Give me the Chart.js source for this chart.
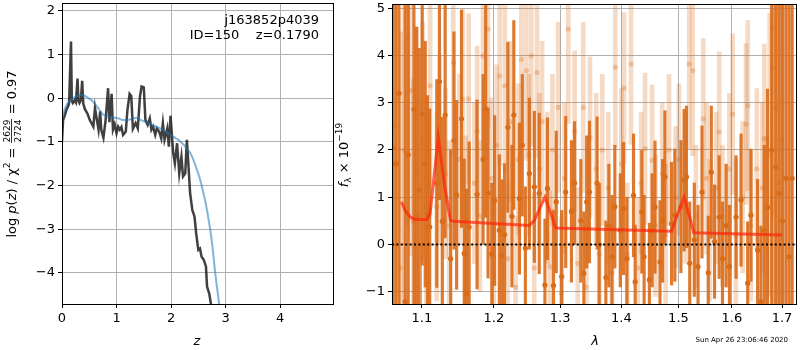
<!DOCTYPE html>
<html>
<head>
<meta charset="utf-8">
<script src="https://cdn.jsdelivr.net/npm/chart.js@4.4.0/dist/chart.umd.min.js"></script>
<style>
body { margin: 0; background: #fff; }
#wrap { position: relative; width: 800px; height: 350px; }
canvas { position: absolute; top: 0; }
#left { left: 0; width: 340px; height: 350px; }
#right { left: 330px; width: 470px; height: 350px; }
</style>
</head>
<body>
<div id="wrap">
<canvas id="left" width="340" height="350"></canvas>
<canvas id="right" width="470" height="350"></canvas>
</div>
<script>
// Panel izquierdo: log p(z)
const zPz = [0, 0.02, 0.05, 0.08, 0.11, 0.13, 0.165, 0.18, 0.2, 0.23, 0.255, 0.285, 0.3, 0.32, 0.345, 0.37, 0.39, 0.42, 0.47, 0.51,
  0.575, 0.605, 0.63, 0.67, 0.7, 0.72, 0.76, 0.8, 0.845, 0.87, 0.91, 0.935, 0.966, 1.0, 1.03, 1.06, 1.09, 1.12, 1.17, 1.2,
  1.24, 1.27, 1.3, 1.35, 1.39, 1.43, 1.46, 1.5, 1.53, 1.57, 1.61, 1.64, 1.67, 1.71, 1.74, 1.78, 1.82, 1.85, 1.88, 1.93,
  1.96, 1.99, 2.04, 2.07, 2.11, 2.15, 2.19, 2.22, 2.26, 2.29, 2.32, 2.35, 2.39, 2.43, 2.46, 2.5, 2.53, 2.56, 2.6, 2.64,
  2.66, 2.7, 2.73, 2.77];
const logPz = [-0.99, -0.5, -0.4, -0.27, -0.19, -0.12, 1.3, -0.06, -0.11, -0.05, -0.1, 0.45, -0.05, -0.11, -0.05, 0.4, -0.12, -0.25, -0.36, -0.5,
  -0.65, -0.22, -0.42, -0.72, -0.3, -0.72, -0.9, -0.5, 0.23, -0.55, 0.1, -0.72, -0.6, -0.8, -0.65, -0.72, -0.66, -0.84, -0.76, -0.27,
  0.1, 0.05, -0.7, -0.57, -0.69, 0.04, 0.27, 0.25, -0.5, -0.61, -0.46, -0.72, -0.65, -0.84, -0.69, -0.76, -0.92, -0.57, -0.95, -0.69,
  -1.11, -0.4, -1.26, -1.49, -1.03, -1.72, -1.34, -1.79, -1.72, -0.95, -1.56, -2.18, -2.56, -2.71, -3.09, -3.47, -3.44, -3.63, -3.7, -3.85,
  -4.31, -4.47, -4.7, -4.92];
const zSmooth = [0, 0.05, 0.1, 0.2, 0.3, 0.36, 0.45, 0.57, 0.66, 0.76, 0.85, 0.94, 1.03, 1.12, 1.2, 1.3, 1.37, 1.45, 1.55, 1.65,
  1.8, 1.92, 2.04, 2.17, 2.29, 2.35, 2.4, 2.47, 2.53, 2.6, 2.65, 2.72, 2.76, 2.81, 2.84, 2.88, 2.92];
const logPzSmooth = [-0.5, -0.25, -0.12, 0.0, 0.06, 0.08, 0.03, -0.08, -0.22, -0.38, -0.42, -0.44, -0.46, -0.5, -0.5, -0.46, -0.45, -0.5, -0.55, -0.61,
  -0.69, -0.78, -0.88, -0.99, -1.15, -1.25, -1.38, -1.62, -1.85, -2.2, -2.5, -3.02, -3.4, -4.0, -4.3, -4.69, -5.2];
const zTicks = [0, 1, 2, 3, 4];
const pzTicks = [-4, -3, -2, -1, 0, 1, 2];

// Panel derecho: espectro (serie oscura)
const lamA = [1.062, 1.066, 1.070, 1.078, 1.082, 1.0895, 1.093, 1.0965,
  1.1005, 1.1045, 1.1075, 1.1105, 1.120, 1.1236, 1.1275, 1.1314, 1.139, 1.1435,
  1.1472, 1.154, 1.1578, 1.161, 1.1647, 1.1759, 1.1845, 1.1882, 1.1916, 1.197,
  1.2011, 1.208, 1.2117, 1.2156, 1.2205, 1.2265, 1.2293, 1.2377, 1.242, 1.2466,
  1.2526, 1.2602, 1.2677, 1.2764, 1.2804, 1.2897, 1.294,
  1.3026, 1.3089, 1.318, 1.323, 1.333, 1.3379, 1.3425, 1.347, 1.3595, 1.363,
  1.374, 1.379, 1.3842, 1.389, 1.3981,
  1.4037, 1.4094, 1.4207, 1.4235, 1.435, 1.439, 1.4482, 1.453, 1.4581, 1.4669,
  1.4715, 1.4757, 1.4876, 1.4935,
  1.5045, 1.5102, 1.5145, 1.5206, 1.529, 1.5359, 1.5433, 1.555, 1.5607, 1.5669,
  1.5757, 1.582, 1.589, 1.5954,
  1.6082, 1.6179, 1.6309, 1.6374, 1.6506, 1.6572, 1.664, 1.6705, 1.679, 1.6873,
  1.6941, 1.701, 1.708, 1.7145, 1.721];
const fluxA = [2.05, 1.71, 3.2, -1.21, 1.9, 2.86, 0.6, 1.15,
  2.76, 1.7, 0.65, 0.37, 1.29, 3.45, 0.49, 2.74, -0.3, 2.2,
  1.05, 2.66, -0.19, -1.03, 0.37, 1.06, 1.8, 2.87, 1.09, -0.2,
  0.93, 0.3, -0.23, 0.21, 2.48, 0.6, 2.74, 0.97, 2.1, -0.08,
  1.5, 1.22, 1.08, -0.86, 1.18, -0.87, 0.9,
  -0.68, 1.11, 0.7, 1.3, 0.5, -0.61, 0.9, 1.11, 1.3, -0.01,
  -0.7, 0.4, -0.26, 0.8, 0.3,
  0.76, -0.3, 1.04, -0.79, 0.69, -0.26, -0.75, 0.3, 0.79, -0.37,
  0.5, 1.43, 0.44, 0.62,
  0.8, 1.36, 1.43, -0.4, 0.1, -0.47, 1.11, -0.6, 1.53, 0.06,
  0.58, -0.3, 0.4, -0.47,
  0.58, 0.94, -0.82, 0.62, -0.12, -1.21, 0.3, 0.79, 2.0, 1.64,
  1.08, 0.5, 1.4, -0.26, 1.4];
const errA = [9, 9, 8, 7, 7, 5, 4, 3,
  3.2, 2.6, 2.5, 2.5, 2.2, 2.5, 2.2, 2.6, 2.3, 2.3,
  2.0, 2.3, 2.0, 2.2, 1.8, 2.0, 1.8, 2.3, 1.8, 1.5,
  1.8, 1.6, 1.6, 1.5, 1.8, 1.5, 2.0, 1.6, 1.5, 1.3,
  1.6, 1.6, 1.7, 1.4, 1.5, 1.6, 1.5,
  1.4, 1.6, 1.5, 1.3, 1.3, 1.3, 1.4, 1.5, 1.4, 1.3,
  1.2, 1.3, 1.3, 1.3, 1.2,
  1.4, 1.3, 1.3, 1.2, 1.3, 1.3, 1.2, 1.2, 1.4, 1.3,
  1.3, 1.4, 1.3, 1.4,
  1.4, 1.5, 1.5, 1.3, 1.2, 1.3, 1.4, 1.2, 1.4, 1.2,
  1.3, 1.2, 1.3, 1.3,
  1.3, 1.4, 1.3, 1.4, 1.5, 1.6, 1.8, 2.5, 4, 7,
  8, 9, 9, 9, 9];

// Serie clara (transparente)
const lamB = [1.064, 1.072, 1.0765, 1.0813, 1.0848, 1.089, 1.093, 1.101, 1.106, 1.111,
  1.120, 1.124, 1.132, 1.137, 1.1426, 1.151, 1.1554, 1.1597, 1.164, 1.172,
  1.176, 1.180, 1.1844, 1.1916, 1.196, 1.200, 1.204, 1.2085, 1.216, 1.220,
  1.224, 1.232, 1.236, 1.2406, 1.2481, 1.252, 1.2556, 1.260, 1.2642, 1.268,
  1.272, 1.280, 1.284, 1.288, 1.297, 1.302, 1.307, 1.313, 1.323, 1.328,
  1.337, 1.342, 1.3479, 1.358, 1.363, 1.368, 1.378, 1.384, 1.3898, 1.400,
  1.4045, 1.410, 1.4164, 1.428, 1.434, 1.4407, 1.453, 1.459, 1.471, 1.477,
  1.483, 1.495, 1.501, 1.513, 1.5196, 1.526, 1.532, 1.5457, 1.552, 1.558,
  1.570, 1.5757, 1.582, 1.595, 1.6016, 1.608, 1.621, 1.6276, 1.631, 1.637,
  1.649, 1.660, 1.664, 1.669, 1.675, 1.680, 1.682, 1.687, 1.693, 1.699];
const fluxB = [2.5, -0.5, 2.0, 4.38, 3.26, 0.5, 1.6, 2.2, 0.8, 3.36,
  0.8, 2.0, 1.5, 0.4, 3.85, 1.8, 3.08, 0.6, 3.08, 1.3,
  2.4, 0.6, 3.99, 4.56, 1.4, -0.82, 2.1, 3.57, 3.36, -0.3,
  2.6, -0.9, 1.8, 3.92, 3.68, 1.9, 3.99, -0.5, 3.64, 1.6,
  2.6, 1.2, -0.47, 2.0, 2.9, -1.03, 1.4, 4.56, 2.4, -0.4,
  2.9, -0.9, 2.27, 1.6, -0.2, 2.0, 1.2, -0.6, 3.75, 1.7,
  3.31, -0.2, 3.82, -0.5, 1.3, 2.03, 1.78, 0.4, 1.5, 0.2,
  2.0, 1.0, 1.8, 1.2, 3.82, 3.68, 0.6, 2.66, 1.4, 0.3,
  1.2, 2.38, 0.6, 1.6, 2.76, 0.2, 1.0, 2.55, 2.94, 0.4,
  1.6, 1.2, 2.24, 0.0, 1.9, 4.59, 3.75, 2.9, 1.3, 2.2];
const errB = [6, 5, 4, 4, 3.5, 3, 3, 2.5, 2.3, 2.2,
  2.0, 2.0, 1.8, 1.8, 2.0, 1.8, 1.9, 1.7, 1.8, 1.7,
  1.8, 1.6, 2.0, 2.1, 1.7, 1.6, 1.7, 1.9, 1.8, 1.6,
  1.7, 1.5, 1.6, 1.9, 1.9, 1.7, 1.9, 1.6, 1.8, 1.6,
  1.7, 1.6, 1.6, 1.6, 1.8, 1.6, 1.6, 2.0, 1.7, 1.6,
  1.8, 1.5, 1.7, 1.6, 1.5, 1.6, 1.6, 1.5, 1.7, 1.6,
  1.6, 1.5, 1.7, 1.5, 1.5, 1.6, 1.6, 1.5, 1.5, 1.5,
  1.6, 1.5, 1.6, 1.6, 1.8, 1.8, 1.5, 1.7, 1.6, 1.5,
  1.6, 1.7, 1.5, 1.6, 1.7, 1.6, 1.6, 1.7, 1.8, 1.6,
  1.7, 1.8, 2.0, 2.3, 3, 4, 5, 6, 7, 8];

// Modelo (linea roja)
const lamModel = [1.0731, 1.078, 1.0847, 1.0912, 1.1066, 1.111, 1.122, 1.1309, 1.1387, 1.1422,
  1.2526, 1.2602, 1.2764, 1.2857, 1.293, 1.4876, 1.4965, 1.5102, 1.5206, 1.528, 1.7];
const fluxModel = [0.9, 0.72, 0.58, 0.53, 0.53, 0.65, 2.27, 1.22, 0.51, 0.49,
  0.4, 0.51, 1.0, 0.65, 0.35, 0.28, 0.58, 1.0, 0.58, 0.25, 0.2];
const lamTicks = [1.1, 1.2, 1.3, 1.4, 1.5, 1.6, 1.7];
const fluxTicks = [-1, 0, 1, 2, 3, 4, 5];

const FONT = '"DejaVu Sans", sans-serif';
const minus = v => String(v).replace('-', '\u2212');

// caja fija para los ejes (posicion del area del grafico)
function fitY(w) {
  return s => { s.width = w; s.paddingTop = 0; s.paddingBottom = 0; };
}
function fitX(h) {
  return s => { s.height = h; s.paddingLeft = 0; s.paddingRight = 0; };
}
function setTicks(list) {
  return s => { s.ticks = list.map(v => ({ value: v })); };
}

const frame = {
  id: 'frame',
  afterDraw(chart) {
    const { ctx, chartArea: a } = chart;
    ctx.save();
    ctx.strokeStyle = '#000';
    ctx.lineWidth = 1;
    ctx.strokeRect(Math.round(a.left) + 0.5, Math.round(a.top) + 0.5,
      Math.round(a.right - a.left), Math.round(a.bottom - a.top));
    ctx.restore();
  }
};

function axisStyle(extra) {
  return Object.assign({
    grid: { color: '#b0b0b0', lineWidth: 1, tickColor: '#000', tickLength: 4, drawOnChartArea: true, offset: false },
    border: { display: false },
    ticks: { color: '#000', font: { family: FONT, size: 13 }, padding: 3, autoSkip: false, maxRotation: 0, callback: minus }
  }, extra);
}

// Textos del panel izquierdo
const leftText = {
  id: 'leftText',
  afterDraw(chart) {
    const ctx = chart.ctx;
    ctx.save();
    ctx.fillStyle = '#000';
    ctx.font = '13px ' + FONT;
    ctx.textAlign = 'right';
    ctx.fillText('j163852p4039', 319, 24);
    ctx.fillText('ID=150    z=0.1790', 319, 39);
    ctx.textAlign = 'center';
    ctx.font = 'italic 13px ' + FONT;
    ctx.fillText('z', 197, 345);

    // etiqueta vertical con fraccion
    const big = '13px ' + FONT, it = 'italic 13px ' + FONT, sm = '9px ' + FONT;
    const parts1 = [['log ', big, 0], ['p', it, 0], ['(', big, 0], ['z', it, 0], [') / \u03c7', big, 0], ['2', sm, -6], [' = ', big, 0]];
    const parts2 = [[' = 0.97', big, 0]];
    const meas = p => { ctx.font = p[1]; return ctx.measureText(p[0]).width; };
    ctx.font = sm;
    const fw = Math.max(ctx.measureText('2629').width, ctx.measureText('2724').width) + 2;
    let total = fw;
    parts1.concat(parts2).forEach(p => total += meas(p));
    ctx.translate(16, 154);
    ctx.rotate(-Math.PI / 2);
    ctx.textAlign = 'left';
    let x = -total / 2;
    parts1.forEach(p => { ctx.font = p[1]; ctx.fillText(p[0], x, p[2]); x += meas(p); });
    ctx.font = sm;
    ctx.textAlign = 'center';
    ctx.fillText('2629', x + fw / 2, -6);
    ctx.fillText('2724', x + fw / 2, 4.5);
    ctx.fillRect(x + 0.5, -4.8, fw - 1, 0.8);
    x += fw;
    ctx.textAlign = 'left';
    parts2.forEach(p => { ctx.font = p[1]; ctx.fillText(p[0], x, p[2]); x += meas(p); });
    ctx.restore();
  }
};

// Textos del panel derecho
const rightText = {
  id: 'rightText',
  afterDraw(chart) {
    const ctx = chart.ctx;
    ctx.save();
    ctx.fillStyle = '#000';
    ctx.textAlign = 'center';
    ctx.font = 'italic 13px ' + FONT;
    ctx.fillText('\u03bb', 265, 345);
    ctx.font = '7px ' + FONT;
    ctx.textAlign = 'right';
    ctx.fillText('Sun Apr 26 23:06:46 2020', 458, 342);

    const big = '13px ' + FONT, it = 'italic 13px ' + FONT, sm = '9px ' + FONT;
    const parts = [['f', it, 0], ['\u03bb', sm, 3], [' \u00d7 10', big, 0], ['\u221219', sm, -6]];
    const meas = p => { ctx.font = p[1]; return ctx.measureText(p[0]).width; };
    let total = 0;
    parts.forEach(p => total += meas(p));
    ctx.translate(18, 155);
    ctx.rotate(-Math.PI / 2);
    ctx.textAlign = 'left';
    let x = -total / 2;
    parts.forEach(p => { ctx.font = p[1]; ctx.fillText(p[0], x, p[2]); x += meas(p); });
    ctx.restore();
  }
};

// Grafico izquierdo
new Chart(document.getElementById('left').getContext('2d'), {
  type: 'scatter',
  data: {
    datasets: [
      {
        data: zPz.map((z, i) => ({ x: z, y: logPz[i] })),
        showLine: true, borderColor: 'rgba(30,30,30,0.85)', borderWidth: 2.5,
        pointRadius: 0, tension: 0, order: 2
      },
      {
        data: zSmooth.map((z, i) => ({ x: z, y: logPzSmooth[i] })),
        showLine: true, borderColor: 'rgba(31,119,180,0.55)', borderWidth: 2,
        pointRadius: 0, tension: 0.3, cubicInterpolationMode: 'monotone', order: 1
      }
    ]
  },
  options: {
    responsive: false,
    animation: false,
    events: [],
    layout: { padding: { top: 3, right: 7, left: 0, bottom: 0 } },
    plugins: { legend: { display: false }, tooltip: { enabled: false } },
    scales: {
      x: axisStyle({ type: 'linear', min: 0, max: 4.97, afterFit: fitX(46), afterBuildTicks: setTicks(zTicks) }),
      y: axisStyle({ type: 'linear', min: -4.71, max: 2.18, afterFit: fitY(62), afterBuildTicks: setTicks(pzTicks) })
    }
  },
  plugins: [frame, leftText]
});

// Grafico derecho
const lamMin = 1.061, lamMax = 1.729;
const orange = 'rgba(217,108,25,';
new Chart(document.getElementById('right').getContext('2d'), {
  type: 'scatter',
  data: {
    datasets: [
      {
        type: 'bar', grouped: false, barThickness: 4, borderWidth: 0,
        data: lamB.map((l, i) => ({ x: l, y: [fluxB[i] - errB[i], fluxB[i] + errB[i]] })),
        backgroundColor: orange + '0.25)', order: 6
      },
      {
        type: 'scatter', pointRadius: 2.6, borderWidth: 0,
        data: lamB.map((l, i) => ({ x: l, y: fluxB[i] })),
        backgroundColor: orange + '0.3)', order: 5
      },
      {
        type: 'bar', grouped: false, barThickness: 2.5, borderWidth: 0,
        data: lamA.map((l, i) => ({ x: l, y: [fluxA[i] - errA[i], fluxA[i] + errA[i]] })),
        backgroundColor: orange + '0.9)', order: 4
      },
      {
        type: 'scatter', pointRadius: 2.6, borderWidth: 0,
        data: lamA.map((l, i) => ({ x: l, y: fluxA[i] })),
        backgroundColor: orange + '1)', order: 3
      },
      {
        type: 'line', data: lamModel.map((l, i) => ({ x: l, y: fluxModel[i] })),
        borderColor: 'rgba(255,35,10,0.7)', borderWidth: 3, pointRadius: 0, tension: 0, order: 2
      },
      {
        type: 'line', data: [{ x: lamMin, y: 0 }, { x: lamMax, y: 0 }],
        borderColor: '#000', borderWidth: 2, borderDash: [2, 2.4], pointRadius: 0, order: 1
      }
    ]
  },
  options: {
    responsive: false,
    animation: false,
    events: [],
    layout: { padding: { top: 3, right: 1, left: 0, bottom: 0 } },
    plugins: { legend: { display: false }, tooltip: { enabled: false } },
    scales: {
      x: axisStyle({
        type: 'logarithmic', min: lamMin, max: lamMax, offset: false,
        afterFit: fitX(46), afterBuildTicks: setTicks(lamTicks),
        ticks: { color: '#000', font: { family: FONT, size: 13 }, padding: 3, autoSkip: false, maxRotation: 0, callback: v => v.toFixed(1) }
      }),
      y: axisStyle({ type: 'linear', min: -1.26, max: 5.09, afterFit: fitY(62), afterBuildTicks: setTicks(fluxTicks) })
    }
  },
  plugins: [frame, rightText]
});
</script>
</body>
</html>
